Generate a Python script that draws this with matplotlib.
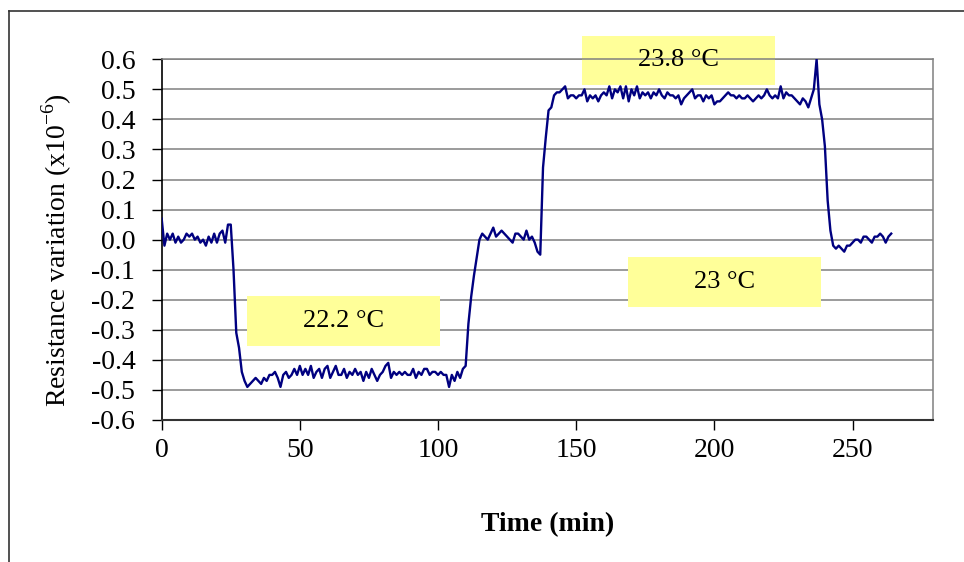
import numpy as np
import matplotlib.pyplot as plt
from matplotlib.patches import Rectangle
from matplotlib.lines import Line2D

plt.rcParams['font.family'] = ['Liberation Serif', 'DejaVu Serif']
plt.rcParams['mathtext.fontset'] = 'custom'
plt.rcParams['mathtext.rm'] = 'Liberation Serif'

# --- data : one reading per minute ---
time_min = np.arange(0, 265)

base_0 = [0.07, -0.02, 0.02, 0.00, 0.02, -0.01, 0.01, -0.01, 0.00, 0.02,
          0.01, 0.02, 0.00, 0.01, -0.01, 0.00, -0.02, 0.01, -0.01, 0.02,
          -0.01, 0.02, 0.03, -0.01, 0.05]
drop_1 = [0.05, -0.10, -0.31, -0.36, -0.44, -0.47, -0.49]
low_222 = [-0.48, -0.47, -0.46, -0.47, -0.48, -0.46, -0.47, -0.45, -0.45, -0.44,
           -0.46, -0.49, -0.45, -0.44, -0.46, -0.45, -0.43, -0.45, -0.42, -0.45,
           -0.43, -0.45, -0.42, -0.46, -0.44, -0.43, -0.46, -0.43, -0.42, -0.46,
           -0.44, -0.42, -0.45, -0.45, -0.43, -0.46, -0.44, -0.45, -0.43, -0.45,
           -0.44, -0.47, -0.44, -0.46, -0.43, -0.45, -0.47, -0.45, -0.44, -0.42,
           -0.41, -0.46, -0.44, -0.45, -0.44, -0.45, -0.44, -0.45, -0.45, -0.43,
           -0.46, -0.44, -0.45, -0.43, -0.43, -0.45, -0.44, -0.44, -0.45, -0.44,
           -0.45, -0.45, -0.49, -0.45, -0.47, -0.44, -0.46, -0.43]
rise_1 = [-0.42, -0.28, -0.19, -0.12, -0.06]
base_23 = [0.00, 0.02, 0.01, 0.00, 0.02, 0.04, 0.01, 0.02, 0.03, 0.02,
           0.01, 0.00, -0.01, 0.02, 0.02, 0.01, 0.00, 0.03, 0.00, 0.01,
           -0.01, -0.04, -0.05]
rise_2 = [0.24, 0.34, 0.43, 0.44]
high_238 = [0.48, 0.49, 0.49, 0.50, 0.51, 0.47, 0.48, 0.48, 0.47, 0.48,
            0.48, 0.50, 0.46, 0.48, 0.47, 0.48, 0.46, 0.48, 0.49, 0.48,
            0.51, 0.47, 0.50, 0.49, 0.51, 0.47, 0.51, 0.46, 0.50, 0.48,
            0.51, 0.47, 0.49, 0.48, 0.49, 0.47, 0.49, 0.48, 0.50, 0.48,
            0.47, 0.49, 0.48, 0.48, 0.47, 0.48, 0.45, 0.47, 0.48, 0.49,
            0.50, 0.47, 0.48, 0.48, 0.46, 0.48, 0.47, 0.48, 0.45, 0.46,
            0.46, 0.47, 0.48, 0.49, 0.48, 0.48, 0.47, 0.48, 0.47, 0.47,
            0.48, 0.47, 0.46, 0.47, 0.48, 0.47, 0.48, 0.50, 0.48, 0.47,
            0.48, 0.47, 0.51, 0.47, 0.49, 0.48, 0.48, 0.47, 0.46, 0.45,
            0.47, 0.46, 0.44, 0.47]
fall_end = [0.50, 0.60, 0.45, 0.40, 0.31, 0.13, 0.03, -0.02, -0.03, -0.02,
            -0.03, -0.04, -0.02, -0.02, -0.01, 0.00, 0.00, -0.01, 0.01, 0.01,
            0.00, -0.01, 0.01, 0.01, 0.02, 0.01, -0.01, 0.01, 0.02]

resistance = np.array(base_0 + drop_1 + low_222 + rise_1 + base_23
                      + rise_2 + high_238 + fall_end)

x_ticks = [0, 50, 100, 150, 200, 250]
y_ticks = [-0.6, -0.5, -0.4, -0.3, -0.2, -0.1, 0.0, 0.1, 0.2, 0.3, 0.4, 0.5, 0.6]

# labels des paliers : (texte, x gauche, y bas)
box_labels = ["22.2 °C", "23.8 °C", "23 °C"]
box_x = [30.9, 152.1, 168.7]
box_y = [-0.354, 0.514, -0.224]
box_w, box_h = 69.8, 0.165

# --- figure ---
fig = plt.figure(figsize=(9.64, 5.62), dpi=100)
ax = fig.add_axes([0.1677, 0.2527, 0.7998, 0.6418])

ax.plot(time_min, resistance, color='#000080', lw=1.7, zorder=3)

ax.set_xlim(0, 279)
ax.set_ylim(-0.6, 0.6)
ax.set_xticks(x_ticks)
ax.set_yticks(y_ticks)
ax.set_yticklabels([f"{v:.1f}" for v in y_ticks])
ax.yaxis.grid(True, color='#808080', lw=1.1)
ax.set_axisbelow(True)

ax.tick_params(axis='y', direction='out', length=7, width=1, pad=12, labelsize=20)
ax.tick_params(axis='x', direction='out', length=7, width=1, pad=6, labelsize=20)

for side in ['top', 'right']:
    ax.spines[side].set_color('#808080')
    ax.spines[side].set_linewidth(1.1)
ax.spines['left'].set_linewidth(1.2)
ax.spines['bottom'].set_linewidth(1.5)
ax.spines['bottom'].set_color('#333333')

for txt, bx, by in zip(box_labels, box_x, box_y):
    ax.add_patch(Rectangle((bx, by), box_w, box_h, facecolor='#FFFF99',
                           edgecolor='none', zorder=2, clip_on=False))
    ax.text(bx + box_w / 2, by + box_h / 2, txt, ha='center', va='center',
            fontsize=19, zorder=4, clip_on=False)

ax.set_xlabel("Time (min)", fontsize=20, fontweight='bold')
ax.xaxis.set_label_coords(0.5, -0.255)
ax.set_ylabel("Resistance variation (x10$^{-6}$)", fontsize=20)
ax.yaxis.set_label_coords(-0.114, 0.47)

# cadre de la zone graphique
fig.add_artist(Line2D([8.5 / 964, 1], [1 - 11 / 562] * 2, transform=fig.transFigure,
                      color='#333333', lw=1.2))
fig.add_artist(Line2D([8.5 / 964] * 2, [0, 1 - 11 / 562], transform=fig.transFigure,
                      color='#333333', lw=1.2))

fig.savefig("out.png", dpi=100)
